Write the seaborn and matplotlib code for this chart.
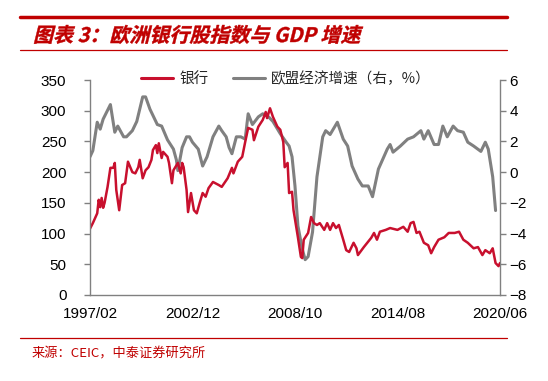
import matplotlib
matplotlib.use("Agg")
import matplotlib.pyplot as plt
from matplotlib.lines import Line2D
from matplotlib.textpath import TextPath
from matplotlib.patches import PathPatch
from matplotlib.font_manager import FontProperties
from matplotlib.transforms import Affine2D
import seaborn as sns
import pandas as pd

# ---------------- data ----------------
bank_dates = ["1997-02","1997-04","1997-07","1997-08","1997-09","1997-10","1997-11","1997-12",
    "1998-02","1998-04","1998-06","1998-07","1998-08","1998-10","1998-12","1999-02","1999-04",
    "1999-07","1999-09","1999-11","1999-12","2000-02","2000-04","2000-06","2000-08","2000-09",
    "2000-11","2000-12","2001-01","2001-03","2001-04","2001-07","2001-08","2001-10","2001-11",
    "2002-02","2002-04","2002-05","2002-06","2002-08","2002-09","2002-11","2003-01","2003-03",
    "2003-05","2003-07","2003-09","2003-11","2004-02","2004-06","2004-08","2004-12","2005-03",
    "2005-04","2005-07","2005-10","2005-12","2006-02","2006-05","2006-06","2006-09","2006-12",
    "2007-02","2007-03","2007-05","2007-07","2007-10","2007-12","2008-02","2008-03","2008-05",
    "2008-06","2008-08","2008-09","2008-12","2009-02","2009-03","2009-04","2009-07","2009-09",
    "2009-11","2010-01","2010-03","2010-06","2010-08","2010-10","2010-12","2011-02","2011-04",
    "2011-07","2011-09","2011-11","2012-02","2012-04","2012-05","2012-09","2013-02","2013-04",
    "2013-06","2013-08","2013-12","2014-03","2014-08","2014-12","2015-03","2015-05","2015-07",
    "2015-09","2015-11","2016-02","2016-05","2016-07","2016-09","2016-12","2017-04","2017-07",
    "2017-11","2018-02","2018-05","2018-08","2018-12","2019-03","2019-06","2019-08","2019-11",
    "2020-01","2020-03","2020-05","2020-06"]
bank_values = [108,117,133,155,143,158,142,150,
    176,207,207,215,171,138,179,182,217,
    200,198,208,220,190,203,208,220,236,
    244,231,247,223,233,225,215,182,203,
    215,198,215,208,171,135,166,138,133,
    150,166,160,174,184,179,176,190,207,
    198,217,225,249,272,269,252,274,285,
    298,288,304,290,274,269,249,208,215,
    166,168,138,94,62,60,90,101,127,
    117,114,117,106,117,106,117,109,114,
    90,73,70,85,76,65,78,93,101,
    90,103,106,109,106,111,103,117,119,
    101,103,85,81,68,78,90,94,101,
    101,103,90,85,76,78,65,73,68,
    76,52,47,52]

gdp_dates = ["1997-02","1997-04","1997-07","1997-09","1997-11","1998-04","1998-07","1998-09",
    "1999-01","1999-03","1999-07","1999-10","2000-02","2000-04","2000-07","2000-12","2001-03",
    "2001-07","2001-11","2002-01","2002-02","2002-05","2002-08","2002-10","2002-12","2003-04",
    "2003-07","2003-10","2004-02","2004-06","2004-08","2004-11","2005-01","2005-03","2005-06",
    "2005-09","2005-12","2006-02","2006-05","2006-09","2006-12","2007-04","2007-07","2007-12",
    "2008-04","2008-06","2008-08","2008-10","2008-12","2009-03","2009-05","2009-07","2009-10",
    "2010-01","2010-05","2010-07","2010-10","2011-03","2011-07","2011-10","2012-01","2012-05",
    "2012-08","2012-12","2013-03","2013-07","2013-10","2014-01","2014-03","2014-05","2014-10",
    "2015-03","2015-07","2015-12","2016-02","2016-05","2016-09","2016-12","2017-03","2017-06",
    "2017-10","2018-01","2018-05","2018-08","2018-12","2019-05","2019-08","2019-10","2020-01",
    "2020-03"]
gdp_values = [1.0,1.4,3.25,2.8,3.45,4.4,2.6,3.0,
    2.3,2.3,2.7,3.3,4.9,4.9,4.1,3.1,3.0,
    2.1,1.5,0.8,0.1,1.6,2.3,2.3,1.95,1.5,
    0.4,1.0,2.3,3.0,2.7,2.3,1.6,1.2,2.3,
    2.3,2.15,3.8,3.1,3.6,3.8,3.6,3.3,2.5,
    1.95,1.7,1.0,-0.9,-3.5,-5.0,-5.7,-5.5,-3.9,
    -0.3,2.3,2.7,2.45,3.25,2.15,1.7,0.4,-0.45,
    -0.9,-0.9,-1.6,0.2,0.85,1.5,1.8,1.3,1.7,
    2.15,2.3,2.7,2.15,2.7,1.8,1.8,3.0,2.3,
    3.0,2.7,2.6,1.95,1.7,1.35,1.95,1.5,-0.3,
    -2.5]

x_ticks = ["1997-02","2002-12","2008-10","2014-08","2020-06"]
x_tick_labels = ["1997/02","2002/12","2008/10","2014/08","2020/06"]
left_ticks = [0,50,100,150,200,250,300,350]
right_ticks = [-8,-6,-4,-2,0,2,4,6]

bank_label = "银行"
gdp_label = "欧盟经济增速（右，%）"
title = "图表 3：欧洲银行股指数与 GDP 增速"
source = "来源：CEIC，中泰证券研究所"

# ---------------- style ----------------
sns.set_style("white")
plt.rcParams["font.family"] = ["Liberation Sans", "Noto Sans CJK SC", "DejaVu Sans"]
plt.rcParams["axes.unicode_minus"] = True

RED = "#C8102E"
GRAY = "#808080"
DARKRED = "#C00000"
W, H = 548, 381

bank_df = pd.DataFrame({"date": pd.to_datetime(bank_dates), "value": bank_values})
gdp_df = pd.DataFrame({"date": pd.to_datetime(gdp_dates), "value": gdp_values})

fig = plt.figure(figsize=(W/100, H/100), dpi=100)
ax = fig.add_axes([90/W, 1-295/H, (500-90)/W, (295-80)/H])
ax2 = ax.twinx()

sns.lineplot(data=gdp_df, x="date", y="value", ax=ax2, color=GRAY, lw=2.2, legend=False)
sns.lineplot(data=bank_df, x="date", y="value", ax=ax, color=RED, lw=1.8, legend=False)
ax.set_zorder(ax2.get_zorder()+1)
ax.patch.set_visible(False)

ax.set_xlim(pd.Timestamp(x_ticks[0]), pd.Timestamp(x_ticks[-1]))
ax.set_ylim(left_ticks[0], left_ticks[-1])
ax2.set_ylim(right_ticks[0], right_ticks[-1])
ax.set_xticks(pd.to_datetime(x_ticks))
ax.set_xticklabels(x_tick_labels)
ax.set_yticks(left_ticks)
ax2.set_yticks(right_ticks)
ax.set_xlabel("")
ax.set_ylabel("")
ax2.set_ylabel("")

for a in (ax, ax2):
    a.spines["top"].set_visible(False)
    for s in a.spines.values():
        s.set_color(GRAY)
        s.set_linewidth(1.0)
    a.tick_params(axis="both", colors=GRAY, labelcolor="black", labelsize=11,
                  length=4, width=1, direction="out")
    a.grid(False)
ax.spines["right"].set_visible(False)
ax2.spines["left"].set_visible(False)
ax2.spines["bottom"].set_visible(False)
ax.tick_params(axis="x", direction="inout", length=6, pad=6)
ax.tick_params(axis="y", pad=13)
ax2.tick_params(axis="y", pad=3)

handles = [Line2D([], [], color=RED, lw=2.2), Line2D([], [], color=GRAY, lw=2.2)]
leg = fig.legend(handles, [bank_label, gdp_label], loc="center left",
                 bbox_to_anchor=(128/W, 1-79/H), ncol=2, frameon=False,
                 prop={"family": ["Noto Sans CJK SC"], "size": 10.5},
                 handlelength=2.2, handletextpad=0.4, columnspacing=1.7)

# header / footer decorations
fig.add_artist(Line2D([20/W, 507/W], [1-17/H, 1-17/H], color=DARKRED, lw=2.5))
fig.add_artist(Line2D([20/W, 507/W], [1-50/H, 1-50/H], color=DARKRED, lw=0.9))
fig.add_artist(Line2D([20/W, 507/W], [1-338/H, 1-338/H], color=DARKRED, lw=0.9))

# italic (skewed) bold title
tp = TextPath((0, 0), title, size=20,
              prop=FontProperties(family="Noto Sans CJK SC", weight="bold"))
tr = Affine2D().skew_deg(14, 0).translate(33, H-42)
fig.add_artist(PathPatch(tp, transform=tr, facecolor=DARKRED, edgecolor=DARKRED, lw=0.3))

fig.text(32/W, 1-354/H, source, color=DARKRED, fontsize=9.5,
         family=["Noto Sans CJK SC", "DejaVu Sans"], va="center", ha="left")

fig.savefig("out.png", dpi=100)
